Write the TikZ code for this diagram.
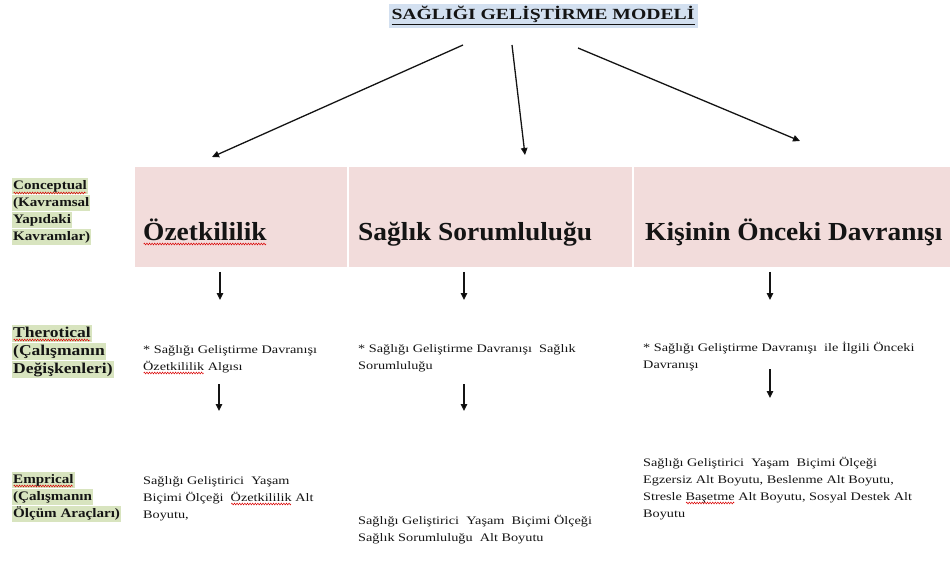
\documentclass[tikz,border=0pt]{standalone}
\usepackage{fontspec}
\setmainfont{Liberation Serif}
\usetikzlibrary{arrows.meta,decorations.pathmorphing}
\definecolor{boxpink}{HTML}{F2DCDB}
\definecolor{labgreen}{HTML}{D8E4BF}
\definecolor{titleblue}{HTML}{D3E0F0}
\definecolor{ink}{HTML}{141414}
\newsavebox\rwbox
\newcommand\rw[1]{\sbox\rwbox{#1}\leavevmode\rlap{\tikz[baseline=0pt,x=1pt,y=1pt]{\useasboundingbox (0,0);\draw[red!85!black,line width=0.5pt,decorate,decoration={zigzag,amplitude=0.9pt,segment length=2.6pt}] (0.5,-3) -- (\wd\rwbox-0.5pt,-3);}}\usebox\rwbox}
\begin{document}
\begin{tikzpicture}[x=1pt,y=-1pt,
  arr/.style={-{Triangle[length=7pt,width=6.5pt]}, line width=1.3pt, draw=ink},
  sm/.style={anchor=base west, inner sep=0pt, align=left, text=ink,
    font=\fontsize{11.5}{17}\selectfont\addfontfeatures{FakeStretch=1.24}},
  lab/.style={anchor=base west, inner ysep=0.5pt, inner xsep=1pt, fill=labgreen, text=ink,
    text height=11pt, text depth=4pt,
    font=\bfseries\fontsize{13}{17}\selectfont\addfontfeatures{FakeStretch=1.16}},
  labbig/.style={lab, text height=12pt, text depth=4.5pt,
    font=\bfseries\fontsize{15}{18}\selectfont\addfontfeatures{FakeStretch=1.17}},
  pinkbox/.style={fill=boxpink, inner sep=0pt, minimum height=100pt},
  head/.style={anchor=base west, inner sep=0pt, text=ink,
    font=\bfseries\fontsize{26}{30}\selectfont\addfontfeatures{FakeStretch=1.055}}
]
\useasboundingbox (0,0) rectangle (950,561);

% title
\node[fill=titleblue, inner xsep=3pt, inner ysep=3pt, anchor=base, text=ink,
  font=\bfseries\fontsize{15.5}{18}\selectfont\addfontfeatures{FakeStretch=1.27}] (title) at (543,20)
  {\underline{SAĞLIĞI GELİŞTİRME MODELİ}};

% pink boxes
\node[pinkbox, minimum width=212pt] (b1) at (241,217) {};
\node[pinkbox, minimum width=283pt] (b2) at (490.5,217) {};
\node[pinkbox, minimum width=316pt] (b3) at (792,217) {};

\node[head] (h1) at (143,241) {\rw{Özetkililik}};
\node[head] (h2) at (358,241) {Sağlık Sorumluluğu};
\node[head] (h3) at (645,241) {Kişinin Önceki Davranışı};

% left labels
\node[lab] (c1) at (12,190) {\rw{Conceptual}};
\node[lab] (c2) at (12,207) {(Kavramsal};
\node[lab] (c3) at (12,224) {Yapıdaki};
\node[lab] (c4) at (12,241) {Kavramlar)};

\node[labbig] (t1) at (12,337) {\rw{Therotical}};
\node[labbig] (t2) at (12,355) {(Çalışmanın};
\node[labbig] (t3) at (12,373) {Değişkenleri)};

\node[lab] (e1) at (12,483) {\rw{Emprical}};
\node[lab] (e2) at (12,500) {(Çalışmanın};
\node[lab] (e3) at (12,517) {Ölçüm Araçları)};

% theoretical texts (base = last line)
\node[sm] (v1) at (143,370) {* Sağlığı Geliştirme Davranışı\\\rw{Özetkililik} Algısı};
\node[sm] (v2) at (358,369) {* Sağlığı Geliştirme Davranışı\ \ Sağlık\\Sorumluluğu};
\node[sm] (v3) at (643,368) {* Sağlığı Geliştirme Davranışı\ \ ile İlgili Önceki\\Davranışı};

% empirical texts (base = last line)
\node[sm] (m1) at (143,518) {Sağlığı Geliştirici\ \ Yaşam\\Biçimi Ölçeği\ \ \rw{Özetkililik}\ Alt\\Boyutu,};
\node[sm] (m2) at (358,541) {Sağlığı Geliştirici\ \ Yaşam\ \ Biçimi Ölçeği\\Sağlık Sorumluluğu\ \ Alt Boyutu};
\node[sm] (m3) at (643,517) {Sağlığı Geliştirici\ \ Yaşam\ \ Biçimi Ölçeği\\Egzersiz Alt Boyutu, Beslenme Alt Boyutu,\\Stresle \rw{Başetme} Alt Boyutu, Sosyal Destek Alt\\Boyutu};

% arrow end points
\coordinate (s1) at (463,45);
\coordinate (s2) at (512,45);
\coordinate (s3) at (578,48);
\coordinate (d1) at (212,157);
\coordinate (d2) at (525,155);
\coordinate (d3) at (800,141);
\draw[arr] (s1) -- (d1);
\draw[arr] (s2) -- (d2);
\draw[arr] (s3) -- (d3);

\coordinate (a1) at (220,272); \coordinate (a1e) at (220,300);
\coordinate (a2) at (464,272); \coordinate (a2e) at (464,300);
\coordinate (a3) at (770,272); \coordinate (a3e) at (770,300);
\draw[arr] (a1) -- (a1e);
\draw[arr] (a2) -- (a2e);
\draw[arr] (a3) -- (a3e);

\coordinate (r1) at (219,384); \coordinate (r1e) at (219,411);
\coordinate (r2) at (464,384); \coordinate (r2e) at (464,411);
\coordinate (r3) at (770,369); \coordinate (r3e) at (770,398);
\draw[arr] (r1) -- (r1e);
\draw[arr] (r2) -- (r2e);
\draw[arr] (r3) -- (r3e);
\end{tikzpicture}
\end{document}
